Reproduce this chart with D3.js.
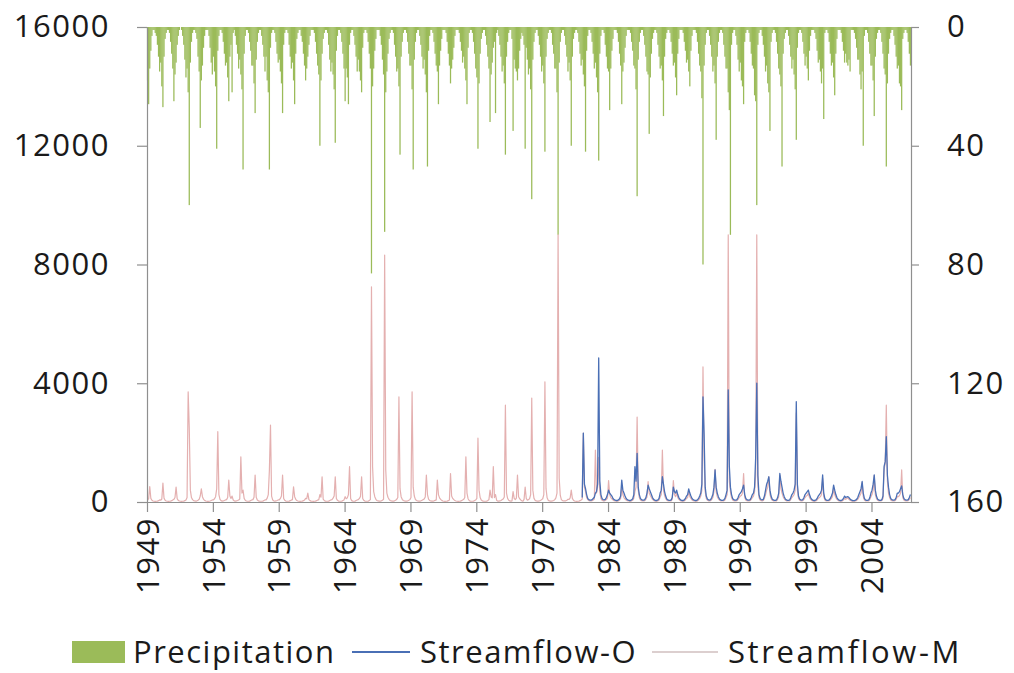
<!DOCTYPE html>
<html>
<head>
<meta charset="utf-8">
<script src="https://cdn.jsdelivr.net/npm/d3@7"></script>
<style>
  body { margin: 0; background: #fff; }
  svg { display: block; }
  text { font-family: "Open Sans", sans-serif; fill: #1a1a1a; }
</style>
</head>
<body>
<svg id="chart" width="1014" height="673"></svg>
<script>
// Monthly series, January 1949 to December 2006
const firstYear = 1949;
const lastYear = 2006;
const tickYears = ["1949", "1954", "1959", "1964", "1969", "1974", "1979", "1984", "1989", "1994", "1999", "2004"];
const flowTicks = [0, 4000, 8000, 12000, 16000];
const rainTicks = [0, 40, 80, 120, 160];

// Monthly precipitation (mm), one row per year, Jan..Dec
const precipitation = [
  18,26,14,8,3,1,1,2,3,6,10,15,      // 1949
  12,20,27,10,4,2,1,1,2,5,9,14,      // 1950
  25,16,12,6,3,1,0,1,3,6,11,17,      // 1951
  14,22,60,12,5,2,1,1,2,4,10,15,     // 1952
  34,18,13,7,3,1,1,1,3,7,12,16,      // 1953
  10,15,20,41,8,3,1,1,2,5,9,13,      // 1954
  12,17,25,10,6,22,2,1,3,6,9,14,     // 1955
  11,16,21,48,9,3,1,1,2,5,8,13,      // 1956
  13,19,29,11,5,2,1,1,3,6,10,15,     // 1957
  10,18,22,48,7,2,1,1,2,5,9,12,      // 1958
  11,15,19,29,6,2,1,1,2,6,10,14,     // 1959
  12,18,26,9,4,2,1,1,3,5,9,13,       // 1960
  18,14,10,6,3,1,1,1,2,5,9,13,       // 1961
  16,40,18,9,4,2,1,1,2,6,11,15,      // 1962
  12,16,21,39,8,3,1,1,2,5,9,14,      // 1963
  25,14,17,26,6,2,1,1,3,6,10,15,     // 1964
  11,15,18,22,7,2,1,1,2,5,9,14,      // 1965
  83,20,14,8,4,1,1,1,3,6,11,16,      // 1966
  69,22,15,9,4,2,1,1,2,6,10,15,      // 1967
  14,20,43,10,5,2,1,1,2,5,9,13,      // 1968
  13,21,48,11,5,2,1,1,3,6,10,14,     // 1969
  11,16,22,47,8,3,1,1,2,5,9,13,      // 1970
  15,26,13,8,4,1,1,1,2,5,9,13,       // 1971
  19,14,11,7,3,1,1,1,2,5,8,12,       // 1972
  10,14,18,26,7,2,1,1,2,5,9,14,      // 1973
  17,41,19,9,4,2,1,1,3,6,10,14,      // 1974
  32,16,12,7,5,29,2,1,3,6,10,15,     // 1975
  13,19,43,10,5,2,1,1,4,35,11,14,    // 1976
  15,18,14,8,4,2,3,6,41,7,11,16,     // 1977
  14,21,58,11,5,2,1,1,3,6,10,15,     // 1978
  13,19,42,10,4,2,1,1,2,6,9,14,      // 1979
  14,22,70,12,5,2,1,1,3,6,10,15,     // 1980
  12,18,40,10,4,2,1,1,2,5,9,13,      // 1981
  11,16,20,42,8,3,1,1,2,5,9,14,      // 1982
  12,17,22,45,9,3,1,1,2,6,10,14,     // 1983
  15,28,14,8,4,1,1,1,2,5,9,13,       // 1984
  26,15,12,7,3,1,1,1,2,5,8,13,       // 1985
  14,21,57,11,5,2,1,1,3,6,10,15,     // 1986
  16,36,17,9,4,2,1,1,2,6,10,14,      // 1987
  13,18,30,10,4,2,1,1,2,5,9,13,      // 1988
  12,17,23,9,4,1,1,1,2,5,8,12,       // 1989
  11,15,20,8,3,1,1,1,2,5,9,13,       // 1990
  15,24,80,13,6,2,1,1,3,6,10,15,     // 1991
  13,19,38,10,5,2,1,1,2,6,10,14,     // 1992
  14,22,28,70,6,2,1,1,3,6,11,15,     // 1993
  12,18,20,26,5,2,1,1,2,5,9,13,      // 1994
  14,23,25,60,6,2,1,1,3,6,10,15,     // 1995
  13,19,22,35,5,2,1,1,2,5,9,14,      // 1996
  16,20,47,9,4,2,1,1,3,6,10,14,      // 1997
  11,16,21,38,7,2,1,1,2,5,9,13,      // 1998
  10,14,18,8,3,1,1,1,2,4,8,12,       // 1999
  11,15,19,14,31,2,1,1,2,5,9,13,     // 2000
  12,17,23,9,4,1,1,1,2,5,8,12,       // 2001
  9,12,13,11,15,1,1,1,2,4,7,11,      // 2002
  11,16,21,15,40,3,1,1,2,5,9,13,     // 2003
  13,18,30,10,4,2,1,1,2,5,9,14,      // 2004
  16,47,19,9,4,2,1,1,3,6,10,14,      // 2005
  13,19,20,28,4,2,1,1,2,5,9,13       // 2006
];

// Modelled streamflow, one row per year, Jan..Dec
const streamflowM = [
  60,110,520,120,60,35,25,20,25,30,45,70,            // 1949
  60,100,640,130,60,35,25,20,25,30,45,70,            // 1950
  90,150,500,110,55,35,25,20,25,30,45,70,            // 1951
  150,3710,2500,400,150,80,45,35,30,40,60,90,        // 1952
  200,440,180,90,55,35,25,20,25,35,50,70,            // 1953
  70,110,180,450,2370,250,90,45,30,35,50,70,         // 1954
  80,150,740,200,120,200,70,40,30,35,50,70,          // 1955
  100,1520,300,400,120,60,35,25,25,30,50,70,         // 1956
  80,160,910,160,70,40,30,25,25,30,50,70,            // 1957
  70,130,250,1080,2590,200,70,40,30,35,50,70,        // 1958
  70,120,200,910,120,55,30,25,25,30,45,65,           // 1959
  80,510,180,90,50,35,25,20,25,30,45,65,             // 1960
  120,110,300,80,45,30,25,20,25,30,45,65,            // 1961
  80,250,160,850,100,50,30,25,25,30,50,70,           // 1962
  80,130,200,850,120,55,30,25,25,30,50,70,           // 1963
  180,110,140,250,1190,120,45,30,25,30,50,70,        // 1964
  80,120,190,850,120,55,30,25,25,30,50,80,           // 1965
  7250,1190,350,180,90,50,35,30,30,40,60,90,         // 1966
  8320,1080,300,160,90,50,35,30,30,40,60,90,         // 1967
  150,3540,450,180,90,50,35,30,30,40,55,80,          // 1968
  150,3710,500,200,90,50,35,30,30,40,55,80,          // 1969
  100,170,910,250,100,50,35,30,30,40,55,70,          // 1970
  740,250,140,90,55,35,25,20,25,30,45,65,            // 1971
  960,200,120,80,50,35,25,20,25,30,45,65,            // 1972
  90,150,1520,300,110,50,30,25,25,30,50,70,          // 1973
  120,2150,400,150,70,40,30,25,25,30,50,80,          // 1974
  400,170,140,1190,150,250,60,30,30,35,50,80,        // 1975
  100,170,3260,300,120,60,35,30,40,350,120,80,       // 1976
  130,910,180,110,70,40,30,90,500,120,60,80,         // 1977
  110,250,3500,400,130,60,35,30,30,35,50,80,         // 1978
  110,250,4050,450,140,60,35,30,30,35,50,80,         // 1979
  140,300,9000,800,220,80,45,35,35,40,60,90,         // 1980
  90,140,400,120,60,35,25,20,25,30,45,65,            // 1981
  100,2320,500,350,150,80,45,35,35,45,70,100,        // 1982
  1750,300,500,1500,350,120,60,40,35,50,80,130,      // 1983
  720,250,150,110,70,45,35,30,30,40,60,120,          // 1984
  500,250,150,100,65,45,35,30,30,40,60,130,          // 1985
  350,500,2860,400,150,70,45,35,35,45,90,170,        // 1986
  690,300,220,150,90,55,35,30,30,40,70,170,          // 1987
  250,1750,400,220,120,60,40,35,35,40,90,725,        // 1988
  250,180,300,150,90,55,35,30,30,40,70,120,          // 1989
  150,350,180,120,70,45,35,30,30,40,70,120,          // 1990
  200,400,4550,1500,350,120,60,40,35,45,90,150,      // 1991
  350,1100,350,180,110,60,40,35,35,40,70,150,        // 1992
  250,9000,700,350,150,70,45,35,35,45,90,150,        // 1993
  200,220,300,960,150,70,45,35,35,45,90,150,         // 1994
  200,350,900,9000,550,150,70,45,40,50,120,250,      // 1995
  400,500,850,250,120,60,40,35,35,40,90,180,         // 1996
  900,450,300,180,110,60,40,35,35,40,90,150,         // 1997
  200,250,400,3000,400,120,60,40,35,45,90,150,       // 1998
  200,220,300,150,90,55,35,30,30,40,70,120,          // 1999
  150,180,250,800,180,70,40,35,35,40,70,120,         // 2000
  180,450,250,150,90,55,35,30,30,40,70,120,          // 2001
  90,120,140,90,60,40,30,25,25,35,55,90,             // 2002
  150,220,300,650,180,70,40,35,35,40,90,180,         // 2003
  250,400,900,250,120,60,40,35,35,50,120,1100,       // 2004
  1300,3260,700,300,150,70,45,35,35,45,90,180,       // 2005
  180,220,300,1080,150,70,45,35,35,45,90,150         // 2006
];

// Observed streamflow, available from January 1982
const observedStartYear = 1982;
const streamflowO = [
  150,2320,600,450,250,120,80,60,60,80,120,160,      // 1982
  300,350,600,4850,700,250,120,80,70,90,150,250,     // 1983
  400,300,250,200,120,80,60,50,50,70,110,200,        // 1984
  740,400,300,200,120,80,60,50,50,70,110,250,        // 1985
  1190,700,1640,500,250,120,80,60,60,80,150,300,     // 1986
  570,450,350,250,150,90,60,50,50,70,120,300,        // 1987
  400,850,600,350,200,100,70,55,55,70,150,500,       // 1988
  350,300,400,250,150,90,60,50,50,70,120,200,        // 1989
  250,440,300,200,120,80,60,50,50,70,120,200,        // 1990
  300,600,3540,2300,500,200,100,70,60,80,150,250,    // 1991
  500,1080,500,300,180,100,70,55,55,70,120,250,      // 1992
  400,3780,1200,500,250,120,80,60,60,80,150,250,     // 1993
  300,350,450,570,250,120,80,60,60,80,150,250,       // 1994
  300,500,1500,4000,900,250,120,80,70,90,200,400,    // 1995
  600,700,850,400,200,100,70,55,55,70,150,300,       // 1996
  960,700,500,300,180,100,70,55,55,70,150,250,       // 1997
  300,400,600,3380,600,200,100,70,60,80,150,250,     // 1998
  300,350,400,250,150,90,60,50,50,70,120,200,        // 1999
  250,300,400,910,300,120,70,55,55,70,120,200,       // 2000
  300,570,400,250,150,90,60,50,50,70,120,200,        // 2001
  150,170,180,150,100,70,50,45,45,60,90,150,         // 2002
  250,350,450,690,300,120,70,55,55,70,150,300,       // 2003
  400,600,910,400,200,100,70,55,55,80,200,1200,      // 2004
  1360,2200,900,500,250,120,80,60,60,80,150,300,     // 2005
  300,350,450,540,250,120,80,60,60,80,150,250        // 2006
];

const colors = {
  rain: "#9bbb59",
  observed: "#4a6fb5",
  modelled: "#e4b0b0",
  modelledKey: "#dccfcf",
  axis: "#8f8f8f"
};

const nMonths = (lastYear - firstYear + 1) * 12;
const obsOffset = (observedStartYear - firstYear) * 12;
const months = d3.range(nMonths);
const observedFull = months.map(i => i < obsOffset ? null : streamflowO[i - obsOffset]);

const plot = { left: 147, right: 911, top: 27, bottom: 502 };
const svg = d3.select("#chart");

const xBand = d3.scaleBand().domain(months).range([plot.left, plot.right]).paddingInner(0).paddingOuter(0);
const xIdx = d3.scaleLinear().domain([0, nMonths]).range([plot.left, plot.right]);
const yFlow = d3.scaleLinear().domain([0, 16000]).range([plot.bottom, plot.top]);
const yRain = d3.scaleLinear().domain([0, 160]).range([plot.top, plot.bottom]);

// Precipitation bars hang from the top edge (reversed right-hand axis)
const barW = xBand.bandwidth() * 1.15;
svg.append("g").selectAll("rect").data(months).join("rect")
  .attr("x", i => xBand(i) + (xBand.bandwidth() - barW) / 2)
  .attr("y", plot.top)
  .attr("width", barW)
  .attr("height", i => yRain(precipitation[i]) - plot.top)
  .attr("fill", colors.rain);

const line = d3.line()
  .defined(d => d.v != null)
  .x(d => xIdx(d.i + 0.5))
  .y(d => yFlow(d.v));

svg.append("path")
  .datum(months.map(i => ({ i, v: streamflowM[i] })))
  .attr("d", line)
  .attr("fill", "none")
  .attr("stroke", colors.modelled)
  .attr("stroke-width", 1.2)
  .attr("stroke-linejoin", "round");

svg.append("path")
  .datum(months.map(i => ({ i, v: observedFull[i] })))
  .attr("d", line)
  .attr("fill", "none")
  .attr("stroke", colors.observed)
  .attr("stroke-width", 1.3)
  .attr("stroke-linejoin", "round");

// Axes
function styleAxis(g) {
  g.selectAll(".domain").attr("stroke", colors.axis).attr("stroke-width", 1.2);
  g.selectAll(".tick line").attr("stroke", colors.axis).attr("stroke-width", 1.2);
  g.selectAll(".tick text")
    .style("font-family", "'Open Sans', sans-serif")
    .style("font-size", "31px")
    .style("letter-spacing", "1.5px")
    .attr("fill", "#1a1a1a");
}

svg.append("g")
  .attr("transform", `translate(${plot.left},0)`)
  .call(d3.axisLeft(yFlow).tickValues(flowTicks).tickFormat(d3.format("d")).tickSize(10).tickSizeOuter(0).tickPadding(27))
  .call(styleAxis);

svg.append("g")
  .attr("transform", `translate(${plot.right},0)`)
  .call(d3.axisRight(yRain).tickValues(rainTicks).tickFormat(d3.format("d")).tickSize(8).tickSizeOuter(0).tickPadding(28))
  .call(styleAxis);

const xAxis = svg.append("g")
  .attr("transform", `translate(0,${plot.bottom})`)
  .call(d3.axisBottom(xIdx).tickValues(d3.range(0, nMonths, 60)).tickFormat((d, i) => tickYears[i]).tickSize(10).tickSizeOuter(0))
  .call(styleAxis);
xAxis.selectAll(".tick text")
  .attr("transform", "rotate(-90)")
  .attr("text-anchor", "end")
  .attr("x", -15)
  .attr("y", 0)
  .attr("dy", "0.36em");

// Legend
const legend = svg.append("g").style("font-size", "31px").style("letter-spacing", "1.5px");
const ly = 652;
legend.append("rect").attr("x", 72).attr("y", ly - 11).attr("width", 53).attr("height", 22).attr("fill", colors.rain);
legend.append("text").attr("x", 133).attr("y", ly).attr("dy", "0.35em").text("Precipitation");
legend.append("line").attr("x1", 352).attr("x2", 410).attr("y1", ly).attr("y2", ly).attr("stroke", colors.observed).attr("stroke-width", 2);
legend.append("text").attr("x", 420).attr("y", ly).attr("dy", "0.35em").text("Streamflow-O");
legend.append("line").attr("x1", 652).attr("x2", 718).attr("y1", ly).attr("y2", ly).attr("stroke", colors.modelledKey).attr("stroke-width", 2);
legend.append("text").attr("x", 728).attr("y", ly).attr("dy", "0.35em").text("Streamflow-M").style("letter-spacing", "2.6px");
</script>
</body>
</html>
